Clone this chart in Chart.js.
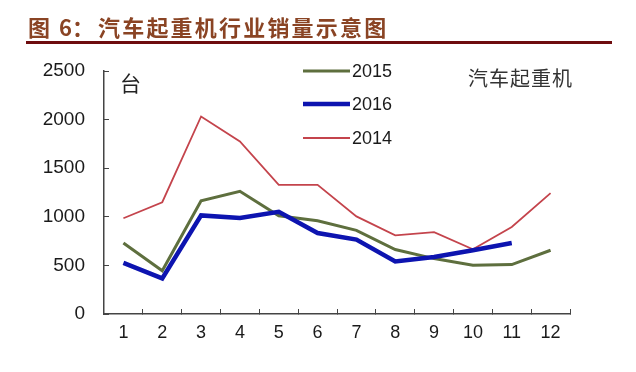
<!DOCTYPE html>
<html>
<head>
<meta charset="utf-8">
<script src="https://cdn.jsdelivr.net/npm/chart.js@4.4.1/dist/chart.umd.min.js"></script>
<style>
  html, body { margin: 0; padding: 0; background: #fff; }
  #wrap { position: relative; width: 636px; height: 372px; overflow: hidden; background: #fff; }
  #c { position: absolute; left: 0; top: 0; }
  .t { position: absolute; white-space: nowrap; font-family: "Noto Sans CJK SC", sans-serif; }
  #title { left: 28px; top: 11px; font-size: 22px; font-weight: bold; color: #8A4424; line-height: 30px; }
  #title .six { margin-left: 9px; }
  #title .rest { letter-spacing: 2.2px; margin-left: 4px; }
  #rule { position: absolute; left: 26px; top: 41px; width: 586px; height: 3px; background: #6E0C0E; }
  #unit { left: 120px; top: 68px; font-size: 21px; color: #222; line-height: 28px; }
  #name { left: 468px; top: 64px; font-size: 20px; color: #333; line-height: 28px; letter-spacing: 1px; }
</style>
</head>
<body>
<div id="wrap">
  <canvas id="c" width="636" height="372"></canvas>
  <div id="title" class="t">图<span class="six">6：</span><span class="rest">汽车起重机行业销量示意图</span></div>
  <div id="rule"></div>
  <div id="unit" class="t">台</div>
  <div id="name" class="t">汽车起重机</div>
</div>
<script>
const months = ['1','2','3','4','5','6','7','8','9','10','11','12'];
const sales2015 = [730, 445, 1165, 1262, 1010, 960, 860, 663, 570, 502, 508, 656];
const sales2016 = [526, 366, 1014, 987, 1052, 833, 765, 540, 587, 656, 731, null];
const sales2014 = [985, 1150, 2032, 1775, 1329, 1329, 1004, 809, 843, 666, 895, 1243];
const yTicks = [0, 500, 1000, 1500, 2000, 2500];

const legendPlugin = {
  id: 'sideLegend',
  afterDraw(chart) {
    const ctx = chart.ctx;
    const rows = [
      { idx: 0, y: 71 },
      { idx: 1, y: 104 },
      { idx: 2, y: 138 }
    ];
    ctx.save();
    rows.forEach(r => {
      const ds = chart.data.datasets[r.idx];
      ctx.strokeStyle = ds.borderColor;
      ctx.lineWidth = ds.borderWidth;
      ctx.lineCap = 'butt';
      ctx.beginPath();
      ctx.moveTo(303, r.y);
      ctx.lineTo(350, r.y);
      ctx.stroke();
      ctx.fillStyle = '#1a1a1a';
      ctx.font = '18px "Liberation Sans", Arial, sans-serif';
      ctx.textBaseline = 'middle';
      ctx.textAlign = 'left';
      ctx.fillText(ds.label, 352, r.y + 1);
    });
    ctx.restore();
  }
};

new Chart(document.getElementById('c'), {
  type: 'line',
  data: {
    labels: months,
    datasets: [
      { label: '2015', data: sales2015, borderColor: '#5E6F3E', borderWidth: 3, order: 1 },
      { label: '2016', data: sales2016, borderColor: '#0D14B0', borderWidth: 4.5, order: 0 },
      { label: '2014', data: sales2014, borderColor: '#C4444C', borderWidth: 1.8, order: 2 }
    ]
  },
  options: {
    responsive: false,
    animation: false,
    devicePixelRatio: 1,
    layout: { padding: { left: 0, top: 71, right: 66, bottom: 0 } },
    elements: {
      point: { radius: 0, hoverRadius: 0 },
      line: { tension: 0, fill: false, borderJoinStyle: 'miter' }
    },
    plugins: { legend: { display: false }, tooltip: { enabled: false }, title: { display: false } },
    scales: {
      x: {
        offset: true,
        grid: { offset: true, drawOnChartArea: false, drawTicks: true, tickLength: -5, color: '#444', lineWidth: 1 },
        border: { display: true, color: '#444', width: 1.5 },
        ticks: { padding: 13, color: '#1a1a1a', font: { family: '"Liberation Sans", Arial, sans-serif', size: 18 } },
        afterFit(s) { s.height = 58; }
      },
      y: {
        min: 0, max: 2500,
        afterBuildTicks(s) { s.ticks = yTicks.map(v => ({ value: v })); },
        grid: { drawOnChartArea: false, drawTicks: true, tickLength: -5, color: '#444', lineWidth: 1 },
        border: { display: true, color: '#444', width: 1.5 },
        ticks: { padding: 24, color: '#1a1a1a', callback: v => String(v), font: { family: '"Liberation Sans", Arial, sans-serif', size: 19 } },
        afterFit(s) { s.width = 104; }
      }
    }
  },
  plugins: [legendPlugin]
});
</script>
</body>
</html>
